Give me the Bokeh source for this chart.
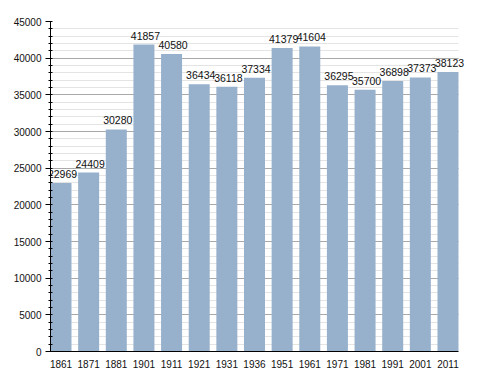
from bokeh.plotting import figure
from bokeh.models import FixedTicker, SingleIntervalTicker, ColumnDataSource, Range1d, LabelSet
from bokeh.core.properties import value
from bokeh.embed import file_html
from bokeh.resources import INLINE

years = ["1861", "1871", "1881", "1901", "1911", "1921", "1931", "1936",
         "1951", "1961", "1971", "1981", "1991", "2001", "2011"]
population = [22969, 24409, 30280, 41857, 40580, 36434, 36118, 37334,
              41379, 41604, 36295, 35700, 36898, 37373, 38123]

FONT = "Liberation Sans"
BAR_W = 0.76
EXTRA = 0.29  # room on the right so the last value label is not clipped
xs = list(range(len(years)))
src = ColumnDataSource(dict(x=xs, y=population, lab=[str(v) for v in population]))

x0 = -BAR_W / 2
x1 = len(years) - 1 + BAR_W / 2

p = figure(width=485, height=370, output_backend="svg", toolbar_location=None,
           x_range=Range1d(x0, x1 + EXTRA),
           y_range=Range1d(0, 45000),
           min_border_left=50, min_border_right=19, min_border_top=21,
           min_border_bottom=17)
p.outline_line_color = None
p.background_fill_color = "white"
p.border_fill_color = "white"

p.vbar(x="x", top="y", width=BAR_W, source=src, fill_color="#97b1cc",
       line_color=None)
p.add_layout(LabelSet(x="x", y="y", text="lab", source=src, text_align="center",
                      text_baseline="alphabetic", y_offset=5, x_offset=1.5,
                      text_font_size="10.5px", text_font=value(FONT),
                      text_color="#111111"))

# x axis
p.xaxis.ticker = FixedTicker(ticks=xs)
p.xaxis.major_label_overrides = {i: y for i, y in zip(xs, years)}
p.xaxis.bounds = (x0, x1)
p.xaxis.major_tick_line_color = None
p.xaxis.minor_tick_line_color = None
p.xaxis.major_label_standoff = 2
p.xaxis.major_label_text_font = FONT
p.xaxis.major_label_text_font_size = "10px"
p.xaxis.major_label_text_color = "#111111"
p.xaxis.axis_line_color = "black"
p.xgrid.grid_line_color = None

# y axis
p.yaxis.ticker = SingleIntervalTicker(interval=5000, num_minor_ticks=5)
p.yaxis.major_tick_out = 5
p.yaxis.major_tick_in = 0
p.yaxis.minor_tick_out = 2
p.yaxis.minor_tick_in = 2
p.yaxis.major_label_standoff = 4
p.yaxis.major_label_text_font = FONT
p.yaxis.major_label_text_font_size = "10px"
p.yaxis.major_label_text_color = "#111111"
p.yaxis.axis_line_color = "black"
p.yaxis.major_tick_line_color = "black"
p.yaxis.minor_tick_line_color = "black"
p.ygrid.grid_line_color = "#a9a9a9"
p.ygrid.minor_grid_line_color = "#e4e4e4"
p.ygrid.cross_bounds = (x0, x1)

open("out.html", "w").write(file_html(p, INLINE))
